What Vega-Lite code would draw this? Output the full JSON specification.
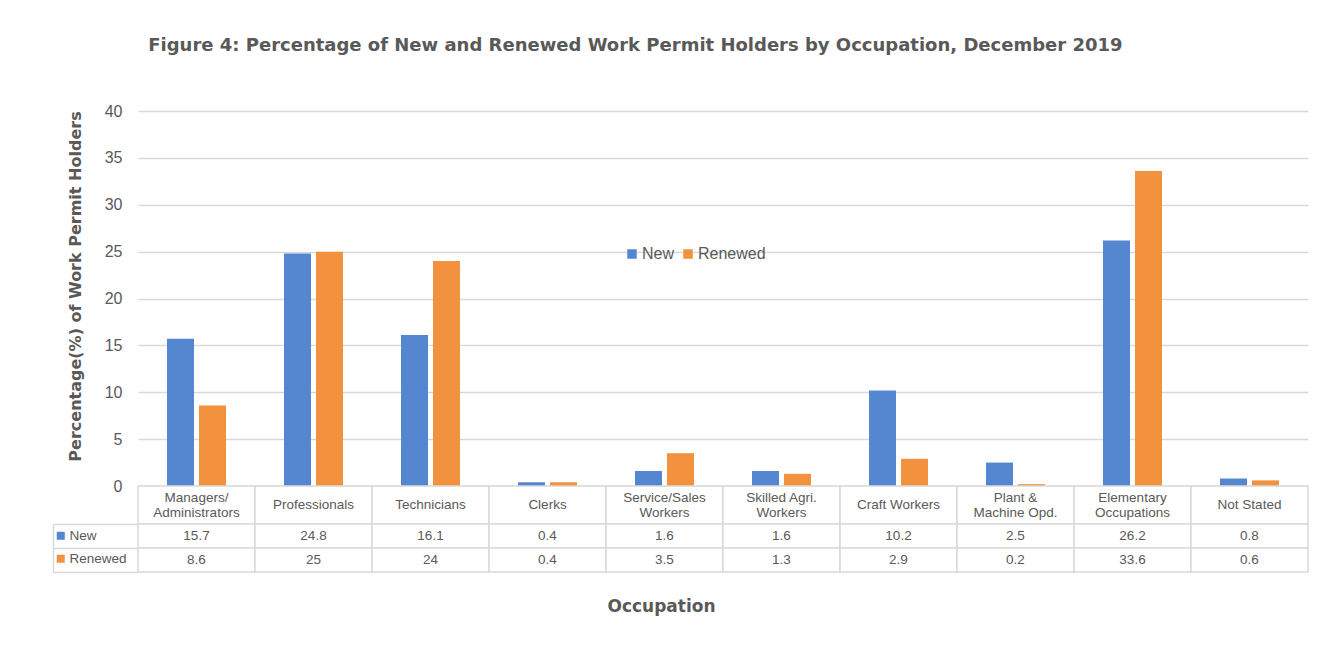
{
  "$schema": "https://vega.github.io/schema/vega-lite/v6.json",
  "padding": {"left": 52, "top": 37, "right": 10, "bottom": 10},
  "background": "white",
  "config": {
    "font": "Liberation Sans",
    "view": {"stroke": null},
    "concat": {"spacing": 0},
    "axis": {"labelColor": "#595959", "titleColor": "#595959"}
  },
  "title": {
    "text": "Figure 4: Percentage of New and Renewed Work Permit Holders by Occupation, December 2019",
    "anchor": "start",
    "dx": 96,
    "font": "DejaVu Sans",
    "fontSize": 18,
    "fontWeight": "bold",
    "color": "#595959",
    "offset": 48
  },
  "datasets": {
    "permits": [
      {"occupation": "Managers/\nAdministrators", "series": "New", "value": 15.7},
      {"occupation": "Managers/\nAdministrators", "series": "Renewed", "value": 8.6},
      {"occupation": "Professionals", "series": "New", "value": 24.8},
      {"occupation": "Professionals", "series": "Renewed", "value": 25},
      {"occupation": "Technicians", "series": "New", "value": 16.1},
      {"occupation": "Technicians", "series": "Renewed", "value": 24},
      {"occupation": "Clerks", "series": "New", "value": 0.4},
      {"occupation": "Clerks", "series": "Renewed", "value": 0.4},
      {"occupation": "Service/Sales\nWorkers", "series": "New", "value": 1.6},
      {"occupation": "Service/Sales\nWorkers", "series": "Renewed", "value": 3.5},
      {"occupation": "Skilled Agri.\nWorkers", "series": "New", "value": 1.6},
      {"occupation": "Skilled Agri.\nWorkers", "series": "Renewed", "value": 1.3},
      {"occupation": "Craft Workers", "series": "New", "value": 10.2},
      {"occupation": "Craft Workers", "series": "Renewed", "value": 2.9},
      {"occupation": "Plant &\nMachine Opd.", "series": "New", "value": 2.5},
      {"occupation": "Plant &\nMachine Opd.", "series": "Renewed", "value": 0.2},
      {"occupation": "Elementary\nOccupations", "series": "New", "value": 26.2},
      {"occupation": "Elementary\nOccupations", "series": "Renewed", "value": 33.6},
      {"occupation": "Not Stated", "series": "New", "value": 0.8},
      {"occupation": "Not Stated", "series": "Renewed", "value": 0.6}
    ]
  },
  "resolve": {"scale": {"color": "independent", "x": "independent", "y": "independent"}, "legend": {"color": "independent"}},
  "bounds": "flush",
  "vconcat": [
    {
      "width": 1170,
      "height": 375,
      "data": {"name": "permits"},
      "mark": {"type": "bar"},
      "encoding": {
        "x": {
          "field": "occupation", "type": "nominal", "sort": null,
          "scale": {"paddingInner": 0, "paddingOuter": 0},
          "axis": null
        },
        "xOffset": {
          "field": "series", "type": "nominal",
          "scale": {"domain": ["New", "Renewed"], "paddingInner": 0.15625, "paddingOuter": 0.90625}
        },
        "y": {
          "field": "value", "type": "quantitative",
          "scale": {"domain": [0, 40], "nice": false},
          "axis": {
            "title": "Percentage(%) of Work Permit Holders",
            "titleFont": "DejaVu Sans",
            "titleFontSize": 16, "titleFontWeight": "bold", "titlePadding": 21, "titleY": 175,
            "values": [0, 5, 10, 15, 20, 25, 30, 35, 40],
            "labelFontSize": 16, "labelPadding": 16,
            "ticks": false, "domain": false,
            "gridColor": "#d9d9d9", "gridWidth": 1.3
          }
        },
        "color": {
          "field": "series", "type": "nominal",
          "scale": {"domain": ["New", "Renewed"], "range": ["#5586d0", "#f3923e"]},
          "legend": {
            "title": null, "orient": "none", "direction": "horizontal",
            "legendX": 486, "legendY": 135,
            "symbolType": "square", "symbolSize": 90, "symbolStrokeWidth": 0,
            "labelFontSize": 16, "labelColor": "#595959", "labelOffset": 2, "columnPadding": 5
          }
        }
      }
    },
    {
      "width": 1170,
      "height": 38,
      "data": {"name": "permits"},
      "transform": [{"filter": "datum.series == 'New'"}],
      "layer": [
        {
          "mark": {"type": "rect", "fill": "white", "stroke": "#d9d9d9", "strokeWidth": 1.5},
          "encoding": {
            "x": {"field": "occupation", "type": "nominal", "sort": null,
                  "scale": {"paddingInner": 0, "paddingOuter": 0}, "axis": null}
          }
        },
        {
          "mark": {"type": "text", "lineBreak": "\n", "fontSize": 13.5, "color": "#595959", "lineHeight": 15,
                   "dy": {"expr": "indexof(datum.occupation, '\\n') >= 0 ? -7 : 0"}},
          "encoding": {
            "x": {"field": "occupation", "type": "nominal", "sort": null},
            "text": {"field": "occupation"}
          }
        }
      ]
    },
    {
      "width": 1170,
      "height": 48,
      "data": {"name": "permits"},
      "layer": [
        {
          "mark": {"type": "rect", "fill": "white", "stroke": "#d9d9d9", "strokeWidth": 1.5},
          "encoding": {
            "x": {"field": "occupation", "type": "nominal", "sort": null,
                  "scale": {"paddingInner": 0, "paddingOuter": 0},
                  "axis": {"title": "Occupation", "titleFont": "DejaVu Sans", "titleFontSize": 17, "titleFontWeight": "bold",
                           "labels": false, "ticks": false, "domain": false, "titlePadding": 26, "titleX": 523}},
            "y": {"field": "series", "type": "nominal",
                  "scale": {"domain": ["New", "Renewed"], "paddingInner": 0, "paddingOuter": 0},
                  "axis": {"title": null, "labels": false, "domain": true, "domainColor": "#d9d9d9", "domainWidth": 1.5,
                           "offset": 85, "ticks": true, "tickSize": -85, "tickBand": "extent",
                           "tickColor": "#d9d9d9", "tickWidth": 1.5}}
          }
        },
        {
          "mark": {"type": "square", "opacity": 0},
          "encoding": {
            "x": {"field": "occupation", "type": "nominal", "sort": null},
            "y": {"field": "series", "type": "nominal"},
            "color": {
              "field": "series", "type": "nominal",
              "scale": {"domain": ["New", "Renewed"], "range": ["#5586d0", "#f3923e"]},
              "legend": {
                "title": null, "orient": "none", "direction": "vertical",
                "legendX": -84, "legendY": 5, "rowPadding": 8,
                "symbolType": "square", "symbolSize": 64, "symbolStrokeWidth": 0, "symbolOpacity": 1,
                "labelFontSize": 13.5, "labelColor": "#595959", "labelOffset": 2
              }
            }
          }
        },
        {
          "mark": {"type": "text", "fontSize": 13.5, "color": "#595959"},
          "encoding": {
            "x": {"field": "occupation", "type": "nominal", "sort": null},
            "y": {"field": "series", "type": "nominal"},
            "text": {"field": "value", "type": "quantitative"}
          }
        }
      ]
    }
  ]
}
